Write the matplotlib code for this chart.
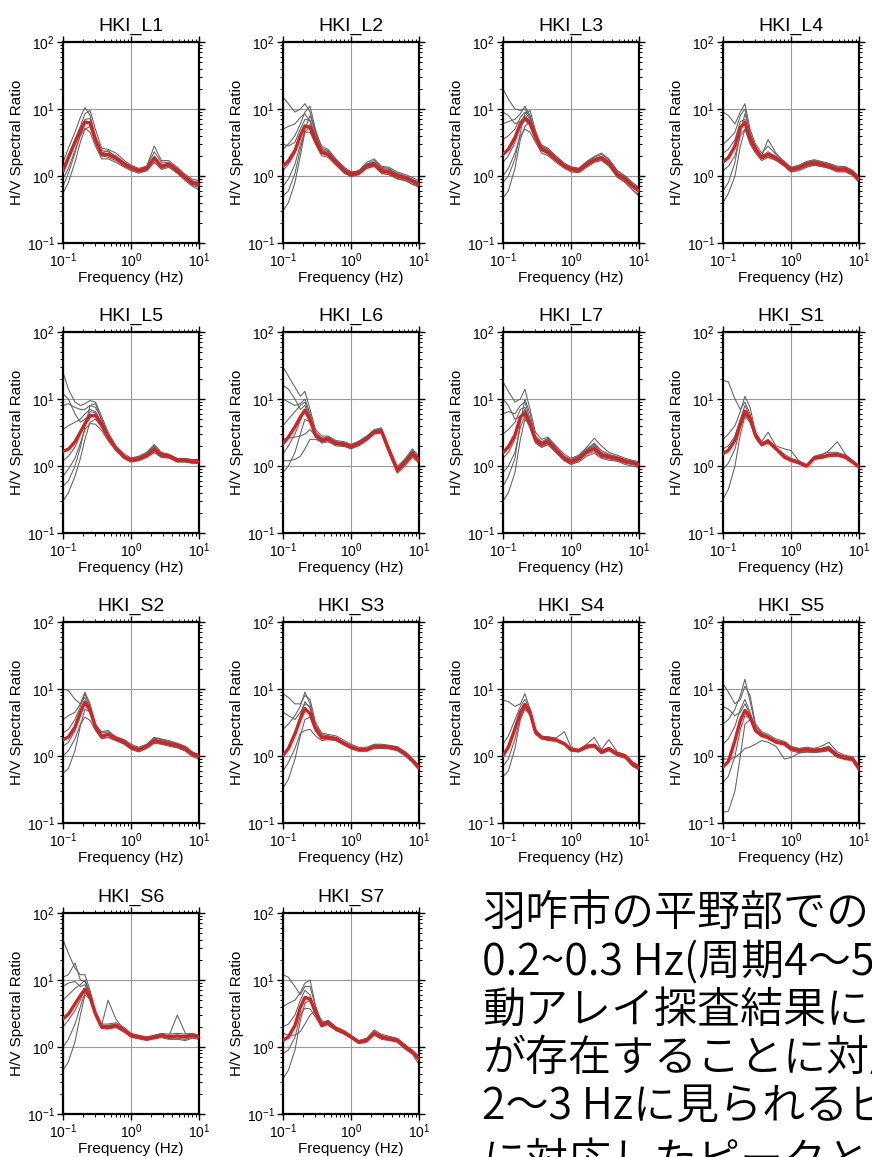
import matplotlib
matplotlib.use("Agg")
import matplotlib.pyplot as plt
from matplotlib.ticker import LogLocator, NullFormatter

plt.rcParams['font.family'] = ['Liberation Sans', 'DejaVu Sans']
plt.rcParams['mathtext.fontset'] = 'custom'
plt.rcParams['mathtext.rm'] = 'Liberation Sans'
plt.rcParams['mathtext.it'] = 'Liberation Sans:italic'
plt.rcParams['mathtext.bf'] = 'Liberation Sans:bold'

# frequency samples (Hz) shared by all curves
FREQ = [0.1, 0.12, 0.15, 0.18, 0.21, 0.25, 0.3, 0.37, 0.46, 0.6, 0.8,
        1.0, 1.3, 1.7, 2.2, 2.8, 3.6, 4.8, 6.3, 8.0, 10.0]

STATIONS = ['HKI_L1', 'HKI_L2', 'HKI_L3', 'HKI_L4', 'HKI_L5', 'HKI_L6', 'HKI_L7',
            'HKI_S1', 'HKI_S2', 'HKI_S3', 'HKI_S4', 'HKI_S5', 'HKI_S6', 'HKI_S7']

# averaged H/V (red)
L1_mean = [1.2, 1.9, 3.2, 4.8, 6.4, 6.2, 3.4, 2.1, 2.1, 1.85, 1.5, 1.33, 1.2, 1.3, 1.85, 1.4, 1.5, 1.2, 0.95, 0.8, 0.75]
L2_mean = [1.41, 1.68, 2.4, 4.0, 5.6, 5.3, 3.35, 2.24, 2.1, 1.58, 1.19, 1.06, 1.12, 1.41, 1.5, 1.19, 1.15, 1.0, 0.94, 0.84, 0.75]
L3_mean = [2.1, 2.5, 3.76, 6.0, 7.2, 6.0, 3.76, 2.5, 2.24, 1.78, 1.41, 1.26, 1.22, 1.5, 1.74, 1.88, 1.58, 1.06, 0.89, 0.71, 0.6]
L4_mean = [1.62, 1.88, 2.8, 5.3, 6.3, 3.5, 2.5, 1.88, 2.1, 1.88, 1.5, 1.26, 1.33, 1.5, 1.58, 1.5, 1.41, 1.26, 1.26, 1.12, 0.89]
L5_mean = [1.66, 1.78, 2.3, 3.2, 4.3, 5.6, 5.7, 4.1, 2.7, 1.82, 1.36, 1.22, 1.29, 1.45, 1.78, 1.45, 1.41, 1.22, 1.22, 1.17, 1.17]
L6_mean = [2.16, 2.7, 3.85, 5.4, 6.8, 4.8, 2.9, 2.4, 2.5, 2.16, 2.1, 1.93, 2.16, 2.57, 3.2, 3.3, 1.72, 0.86, 1.15, 1.53, 1.22]
L7_mean = [1.58, 1.93, 2.9, 5.4, 6.1, 4.1, 2.43, 2.09, 2.3, 1.72, 1.29, 1.15, 1.29, 1.62, 1.82, 1.45, 1.36, 1.29, 1.17, 1.12, 1.05]
S1_mean = [1.53, 1.72, 2.43, 4.3, 6.6, 5.1, 2.9, 2.1, 2.34, 1.82, 1.36, 1.22, 1.12, 1.0, 1.32, 1.36, 1.45, 1.48, 1.36, 1.15, 0.97]
S2_mean = [1.75, 1.92, 2.7, 4.5, 6.4, 4.8, 2.7, 1.97, 2.1, 1.81, 1.62, 1.36, 1.24, 1.39, 1.71, 1.62, 1.53, 1.44, 1.29, 1.08, 0.99]
S3_mean = [1.02, 1.29, 2.15, 3.6, 5.1, 4.3, 2.56, 1.88, 1.88, 1.81, 1.53, 1.36, 1.24, 1.24, 1.39, 1.39, 1.36, 1.29, 1.08, 0.86, 0.67]
S4_mean = [1.02, 1.36, 2.56, 4.5, 5.9, 4.5, 2.28, 1.88, 1.81, 1.75, 1.53, 1.24, 1.21, 1.39, 1.44, 1.15, 1.29, 1.08, 0.99, 0.77, 0.67]
S5_mean = [0.69, 0.83, 1.71, 3.4, 4.8, 3.8, 2.4, 2.03, 1.88, 1.62, 1.53, 1.29, 1.21, 1.24, 1.21, 1.24, 1.29, 1.02, 0.94, 0.91, 0.65]
S6_mean = [2.63, 3.1, 4.4, 5.85, 7.3, 5.5, 3.1, 1.98, 1.98, 2.1, 1.77, 1.49, 1.41, 1.33, 1.41, 1.49, 1.41, 1.46, 1.41, 1.49, 1.41]
S7_mean = [1.26, 1.41, 2.1, 3.9, 5.5, 5.2, 3.3, 2.1, 2.35, 1.87, 1.63, 1.41, 1.19, 1.26, 1.63, 1.41, 1.33, 1.26, 1.0, 0.84, 0.67]

# individual windows (gray)
L1_gray = [
    [1.6, 2.6, 4.5, 7.5, 10.5, 8.0, 4.0, 2.4, 2.3, 2.0, 1.6, 1.4, 1.25, 1.4, 2.3, 1.6, 1.6, 1.3, 1.0, 0.85, 0.8],
    [0.55, 0.8, 1.6, 3.2, 5.0, 5.5, 3.4, 2.0, 1.9, 1.7, 1.4, 1.25, 1.15, 1.2, 1.6, 1.3, 1.4, 1.1, 0.85, 0.7, 0.62],
    [1.3, 2.0, 3.5, 5.5, 8.5, 9.5, 5.0, 2.6, 2.5, 2.2, 1.7, 1.45, 1.3, 1.4, 2.8, 1.7, 1.7, 1.35, 1.05, 0.9, 0.85],
    [0.9, 1.3, 2.4, 4.0, 5.2, 4.5, 2.8, 1.8, 1.8, 1.6, 1.35, 1.2, 1.1, 1.2, 1.6, 1.25, 1.35, 1.1, 0.9, 0.72, 0.68],
    [1.1, 1.7, 3.0, 5.0, 7.0, 7.2, 3.8, 2.2, 2.4, 1.9, 1.55, 1.35, 1.2, 1.3, 2.0, 1.45, 1.55, 1.25, 0.95, 0.78, 0.72],
    [0.7, 1.1, 2.2, 4.2, 6.0, 6.5, 3.6, 2.0, 2.0, 1.8, 1.45, 1.3, 1.2, 1.35, 1.9, 1.35, 1.45, 1.2, 0.9, 0.75, 0.7],
]
L2_gray = [
    [15.0, 12.0, 9.0, 10.0, 12.0, 9.0, 4.5, 2.8, 2.5, 1.8, 1.35, 1.15, 1.2, 1.6, 1.8, 1.4, 1.35, 1.15, 1.05, 0.95, 0.85],
    [0.3, 0.4, 0.8, 2.0, 4.5, 5.5, 3.6, 2.2, 2.0, 1.5, 1.1, 1.0, 1.05, 1.3, 1.4, 1.1, 1.05, 0.9, 0.85, 0.75, 0.68],
    [5.0, 5.5, 6.0, 7.5, 8.5, 6.5, 3.8, 2.5, 2.3, 1.7, 1.3, 1.1, 1.2, 1.5, 1.6, 1.3, 1.25, 1.1, 1.0, 0.9, 0.8],
    [0.7, 0.9, 1.5, 3.0, 4.5, 4.5, 3.0, 2.0, 1.9, 1.45, 1.1, 0.98, 1.05, 1.3, 1.4, 1.1, 1.05, 0.92, 0.86, 0.76, 0.7],
    [2.5, 3.0, 4.0, 6.0, 9.0, 11.0, 5.0, 2.6, 2.4, 1.75, 1.25, 1.12, 1.15, 1.5, 1.7, 1.35, 1.3, 1.05, 0.98, 0.88, 0.8],
    [1.2, 1.5, 2.2, 3.8, 5.5, 5.8, 3.5, 2.4, 2.2, 1.6, 1.2, 1.05, 1.1, 1.45, 1.55, 1.2, 1.15, 1.02, 0.95, 0.85, 0.76],
    [3.0, 2.8, 3.2, 5.0, 7.0, 6.8, 4.0, 2.3, 2.0, 1.55, 1.15, 1.02, 1.08, 1.35, 1.45, 1.15, 1.1, 0.95, 0.9, 0.8, 0.72],
    [0.5, 0.6, 1.1, 2.5, 5.0, 8.0, 4.5, 2.2, 2.1, 1.65, 1.22, 1.08, 1.15, 1.4, 1.6, 1.25, 1.2, 1.05, 0.97, 0.86, 0.78],
]
L3_gray = [
    [20.0, 14.0, 10.0, 9.5, 10.0, 7.5, 4.5, 2.8, 2.5, 1.95, 1.5, 1.35, 1.3, 1.6, 1.9, 2.1, 1.75, 1.2, 1.0, 0.8, 0.68],
    [0.47, 0.6, 1.3, 3.5, 5.5, 6.5, 4.0, 2.4, 2.1, 1.7, 1.35, 1.2, 1.15, 1.4, 1.65, 1.75, 1.45, 0.98, 0.8, 0.62, 0.5],
    [6.0, 6.5, 7.0, 8.5, 11.0, 8.0, 4.2, 2.9, 2.6, 2.0, 1.55, 1.38, 1.3, 1.65, 1.95, 2.2, 1.8, 1.2, 0.98, 0.78, 0.66],
    [1.0, 1.3, 2.2, 4.0, 5.0, 4.5, 3.2, 2.2, 2.0, 1.6, 1.3, 1.15, 1.12, 1.35, 1.6, 1.7, 1.4, 0.95, 0.8, 0.63, 0.52],
    [3.5, 4.0, 5.0, 7.5, 9.0, 7.0, 4.0, 2.6, 2.4, 1.85, 1.45, 1.3, 1.25, 1.55, 1.8, 1.95, 1.65, 1.12, 0.94, 0.75, 0.64],
    [1.6, 2.0, 3.2, 5.5, 7.5, 6.8, 3.9, 2.5, 2.2, 1.75, 1.4, 1.22, 1.2, 1.45, 1.7, 1.85, 1.5, 1.02, 0.85, 0.68, 0.57],
    [9.0, 8.0, 6.0, 6.5, 8.0, 6.5, 4.0, 2.7, 2.4, 1.8, 1.42, 1.28, 1.24, 1.52, 1.78, 1.95, 1.6, 1.08, 0.9, 0.72, 0.62],
    [0.8, 1.0, 1.8, 4.5, 8.5, 9.5, 4.8, 2.6, 2.3, 1.82, 1.45, 1.3, 1.25, 1.5, 1.75, 1.9, 1.62, 1.1, 0.92, 0.74, 0.62],
]
L4_gray = [
    [9.0, 8.0, 6.0, 9.0, 12.0, 5.0, 3.0, 2.2, 2.8, 2.1, 1.65, 1.35, 1.45, 1.65, 1.75, 1.65, 1.55, 1.4, 1.38, 1.22, 0.98],
    [0.4, 0.55, 1.0, 2.8, 5.0, 3.6, 2.4, 1.8, 1.9, 1.75, 1.4, 1.15, 1.2, 1.35, 1.45, 1.38, 1.3, 1.15, 1.15, 1.02, 0.8],
    [3.0, 3.5, 4.5, 8.0, 10.0, 4.2, 2.8, 2.0, 3.5, 2.2, 1.6, 1.3, 1.4, 1.6, 1.7, 1.6, 1.5, 1.35, 1.35, 1.2, 0.95],
    [1.2, 1.4, 2.0, 4.0, 5.0, 3.0, 2.2, 1.7, 1.9, 1.7, 1.4, 1.15, 1.25, 1.4, 1.45, 1.4, 1.32, 1.18, 1.18, 1.05, 0.82],
    [2.2, 2.5, 3.5, 6.5, 7.0, 3.8, 2.7, 2.0, 2.3, 1.95, 1.55, 1.3, 1.38, 1.55, 1.65, 1.55, 1.45, 1.3, 1.3, 1.15, 0.92],
    [0.6, 0.8, 1.6, 4.5, 8.5, 4.5, 2.6, 1.9, 2.0, 1.8, 1.45, 1.2, 1.3, 1.45, 1.5, 1.45, 1.36, 1.22, 1.22, 1.08, 0.86],
]
L5_gray = [
    [25.0, 14.0, 9.0, 8.0, 8.5, 9.5, 9.0, 5.5, 3.2, 2.0, 1.5, 1.32, 1.4, 1.6, 2.1, 1.6, 1.5, 1.3, 1.3, 1.25, 1.25],
    [0.3, 0.4, 0.7, 1.3, 2.5, 4.5, 5.0, 3.8, 2.5, 1.7, 1.28, 1.15, 1.2, 1.35, 1.6, 1.35, 1.32, 1.15, 1.15, 1.1, 1.1],
    [8.0, 8.5, 7.5, 7.0, 7.0, 8.0, 7.5, 5.0, 3.0, 1.95, 1.42, 1.28, 1.35, 1.55, 2.0, 1.55, 1.48, 1.28, 1.28, 1.22, 1.22],
    [0.7, 0.9, 1.3, 2.2, 3.5, 4.3, 4.2, 3.4, 2.4, 1.7, 1.3, 1.15, 1.22, 1.35, 1.6, 1.35, 1.32, 1.15, 1.15, 1.1, 1.1],
    [3.5, 4.0, 4.5, 5.0, 6.0, 7.0, 6.5, 4.5, 2.9, 1.9, 1.4, 1.25, 1.32, 1.5, 1.9, 1.5, 1.45, 1.25, 1.25, 1.2, 1.2],
    [1.2, 1.4, 1.9, 3.0, 4.5, 6.5, 6.2, 4.3, 2.8, 1.85, 1.38, 1.22, 1.28, 1.45, 1.75, 1.42, 1.4, 1.2, 1.2, 1.15, 1.15],
    [12.0, 10.0, 6.0, 4.5, 5.0, 6.0, 5.5, 4.0, 2.6, 1.78, 1.33, 1.2, 1.26, 1.42, 1.7, 1.42, 1.38, 1.2, 1.2, 1.15, 1.14],
    [0.5, 0.6, 1.0, 1.9, 3.8, 8.0, 8.5, 4.8, 2.7, 1.8, 1.35, 1.22, 1.3, 1.48, 1.85, 1.48, 1.42, 1.24, 1.24, 1.18, 1.18],
]
L6_gray = [
    [30.0, 22.0, 15.0, 11.0, 13.0, 7.0, 3.5, 2.8, 2.8, 2.4, 2.3, 2.1, 2.35, 2.8, 3.5, 3.7, 1.95, 0.98, 1.3, 1.8, 1.4],
    [0.8, 1.0, 1.6, 3.0, 5.0, 4.5, 2.7, 2.2, 2.3, 2.0, 1.95, 1.8, 2.0, 2.4, 3.0, 3.1, 1.6, 0.78, 1.02, 1.35, 1.1],
    [10.0, 9.0, 8.0, 8.5, 10.0, 6.0, 3.2, 2.6, 2.7, 2.3, 2.2, 2.05, 2.3, 2.7, 3.4, 3.6, 1.85, 0.92, 1.25, 1.7, 1.32],
    [1.2, 1.2, 1.25, 1.4, 1.8, 2.5, 2.5, 2.3, 2.4, 2.1, 2.0, 1.85, 2.05, 2.45, 3.1, 3.2, 1.65, 0.82, 1.08, 1.42, 1.15],
    [4.0, 5.0, 6.5, 8.0, 9.0, 5.5, 3.0, 2.5, 2.6, 2.2, 2.15, 1.98, 2.2, 2.6, 3.3, 3.4, 1.78, 0.88, 1.18, 1.6, 1.26],
    [2.5, 2.6, 2.7, 2.8, 3.0, 3.5, 2.8, 2.4, 2.5, 2.15, 2.05, 1.9, 2.1, 2.5, 3.15, 3.25, 1.7, 0.85, 1.12, 1.48, 1.2],
    [1.5, 2.0, 3.0, 4.8, 7.0, 5.2, 3.0, 2.5, 2.6, 2.25, 2.15, 2.0, 2.25, 2.65, 3.3, 3.45, 1.8, 0.9, 1.2, 1.62, 1.28],
    [16.0, 14.0, 10.0, 7.0, 8.0, 5.0, 3.1, 2.6, 2.7, 2.3, 2.2, 2.05, 2.25, 2.7, 3.35, 3.5, 1.82, 0.9, 1.22, 1.65, 1.3],
]
L7_gray = [
    [18.0, 13.0, 9.0, 10.0, 14.0, 7.0, 3.2, 2.5, 2.7, 2.0, 1.5, 1.3, 1.45, 1.9, 2.6, 2.0, 1.6, 1.45, 1.3, 1.22, 1.15],
    [0.3, 0.4, 0.8, 2.5, 5.0, 4.0, 2.3, 1.9, 2.1, 1.6, 1.2, 1.05, 1.15, 1.4, 1.55, 1.3, 1.22, 1.18, 1.05, 1.0, 0.95],
    [6.0, 6.5, 6.0, 8.0, 9.0, 5.0, 2.8, 2.3, 2.6, 1.9, 1.4, 1.25, 1.4, 1.8, 2.2, 1.7, 1.5, 1.38, 1.25, 1.18, 1.1],
    [0.8, 1.0, 1.6, 3.8, 5.5, 3.8, 2.2, 1.9, 2.1, 1.6, 1.2, 1.08, 1.2, 1.5, 1.65, 1.35, 1.28, 1.2, 1.1, 1.05, 0.98],
    [3.0, 3.5, 4.5, 7.0, 7.5, 4.6, 2.6, 2.2, 2.5, 1.8, 1.35, 1.2, 1.35, 1.7, 2.0, 1.55, 1.42, 1.33, 1.2, 1.15, 1.08],
    [1.3, 1.6, 2.5, 5.0, 6.5, 4.3, 2.5, 2.1, 2.3, 1.75, 1.3, 1.15, 1.3, 1.6, 1.8, 1.45, 1.35, 1.28, 1.16, 1.1, 1.04],
    [10.0, 8.0, 5.0, 5.5, 7.0, 4.5, 2.6, 2.2, 2.4, 1.78, 1.32, 1.18, 1.32, 1.68, 1.9, 1.5, 1.4, 1.32, 1.2, 1.14, 1.06],
    [0.5, 0.7, 1.3, 4.5, 10.0, 6.0, 2.7, 2.2, 2.5, 1.82, 1.36, 1.2, 1.36, 1.75, 2.1, 1.6, 1.45, 1.35, 1.22, 1.16, 1.08],
]
S1_gray = [
    [19.0, 18.0, 10.0, 7.0, 9.0, 6.0, 3.0, 2.2, 2.5, 1.9, 1.5, 1.3, 1.2, 1.05, 1.4, 1.5, 1.6, 1.6, 1.45, 1.22, 1.02],
    [0.32, 0.45, 1.0, 3.0, 5.5, 4.5, 2.6, 2.0, 2.2, 1.75, 1.3, 1.18, 1.08, 0.96, 1.25, 1.3, 1.38, 1.4, 1.3, 1.1, 0.94],
    [2.5, 3.0, 4.0, 6.5, 11.0, 7.5, 3.2, 2.3, 3.2, 2.0, 1.8, 1.7, 1.2, 1.02, 1.35, 1.45, 1.7, 2.3, 1.5, 1.2, 1.0],
    [0.9, 1.1, 1.8, 3.8, 5.8, 4.8, 2.8, 2.0, 2.2, 1.75, 1.32, 1.2, 1.1, 0.98, 1.3, 1.32, 1.42, 1.45, 1.32, 1.12, 0.95],
    [1.8, 2.0, 2.8, 5.0, 8.0, 5.5, 3.0, 2.2, 2.4, 1.85, 1.4, 1.25, 1.14, 1.02, 1.34, 1.4, 1.5, 1.5, 1.4, 1.18, 0.98],
]
S2_gray = [
    [10.0, 9.5, 7.0, 6.0, 9.0, 6.0, 3.0, 2.2, 2.3, 1.95, 1.75, 1.5, 1.35, 1.5, 1.9, 1.8, 1.7, 1.55, 1.4, 1.15, 1.05],
    [0.55, 0.65, 1.2, 2.8, 5.0, 4.5, 2.6, 1.85, 1.9, 1.7, 1.5, 1.25, 1.15, 1.3, 1.55, 1.5, 1.4, 1.32, 1.18, 0.98, 0.9],
    [3.5, 4.0, 4.5, 6.0, 7.5, 5.2, 2.9, 2.3, 2.4, 1.9, 1.7, 1.42, 1.3, 1.45, 1.85, 1.75, 1.65, 1.5, 1.35, 1.12, 1.02],
    [1.0, 1.2, 1.8, 3.0, 3.8, 3.4, 2.4, 1.8, 1.9, 1.7, 1.5, 1.28, 1.18, 1.32, 1.6, 1.52, 1.45, 1.35, 1.22, 1.02, 0.94],
    [2.2, 2.5, 3.5, 5.5, 8.5, 5.5, 2.8, 2.0, 2.2, 1.85, 1.65, 1.38, 1.26, 1.42, 1.75, 1.68, 1.58, 1.48, 1.32, 1.1, 1.0],
    [1.4, 1.6, 2.4, 4.0, 6.0, 4.5, 2.6, 1.95, 2.1, 1.8, 1.6, 1.35, 1.22, 1.38, 1.7, 1.6, 1.5, 1.42, 1.28, 1.06, 0.97],
]
S3_gray = [
    [8.5, 7.5, 6.0, 6.0, 8.0, 7.0, 3.2, 2.2, 2.1, 2.0, 1.7, 1.5, 1.35, 1.35, 1.5, 1.5, 1.45, 1.38, 1.15, 0.92, 0.72],
    [0.33, 0.45, 0.9, 2.0, 3.5, 3.8, 2.4, 1.8, 1.8, 1.7, 1.45, 1.28, 1.18, 1.18, 1.3, 1.3, 1.28, 1.2, 1.0, 0.8, 0.62],
    [2.5, 3.0, 4.0, 5.5, 9.0, 6.0, 2.8, 2.0, 2.0, 1.9, 1.6, 1.42, 1.3, 1.3, 1.45, 1.45, 1.42, 1.35, 1.12, 0.9, 0.7],
    [0.6, 0.8, 1.3, 2.2, 2.4, 2.5, 2.0, 1.7, 1.75, 1.7, 1.45, 1.3, 1.2, 1.2, 1.32, 1.32, 1.3, 1.22, 1.02, 0.82, 0.64],
    [4.5, 4.0, 3.5, 4.5, 6.0, 5.5, 2.9, 2.1, 2.0, 1.85, 1.58, 1.4, 1.28, 1.28, 1.42, 1.42, 1.38, 1.32, 1.1, 0.88, 0.69],
    [1.0, 1.3, 2.2, 4.0, 6.5, 5.2, 2.6, 1.9, 1.9, 1.8, 1.52, 1.35, 1.23, 1.23, 1.38, 1.38, 1.35, 1.28, 1.07, 0.85, 0.66],
]
S4_gray = [
    [6.8, 6.5, 5.5, 6.0, 8.5, 5.0, 2.5, 2.0, 1.9, 1.8, 1.55, 1.3, 1.25, 1.5, 1.9, 1.25, 1.75, 1.15, 1.05, 0.82, 0.72],
    [0.49, 0.6, 1.3, 3.5, 5.0, 4.2, 2.2, 1.8, 1.75, 1.7, 1.5, 1.2, 1.15, 1.3, 1.35, 1.08, 1.2, 1.0, 0.92, 0.7, 0.62],
    [1.5, 2.0, 3.5, 5.5, 7.0, 5.0, 2.4, 1.95, 1.95, 1.85, 2.3, 1.35, 1.25, 1.45, 1.5, 1.2, 1.35, 1.12, 1.02, 0.8, 0.7],
    [0.7, 0.9, 1.8, 3.8, 5.2, 4.0, 2.1, 1.8, 1.7, 1.65, 1.45, 1.18, 1.15, 1.32, 1.4, 1.1, 1.22, 1.02, 0.95, 0.72, 0.63],
]
S5_gray = [
    [12.0, 9.0, 6.0, 7.0, 11.0, 8.0, 3.0, 2.3, 2.1, 1.8, 1.65, 1.4, 1.3, 1.35, 1.3, 1.4, 1.6, 1.15, 1.02, 0.98, 0.72],
    [0.145, 0.15, 0.3, 1.0, 3.0, 3.5, 2.3, 2.0, 1.8, 1.55, 1.45, 1.2, 1.12, 1.15, 1.12, 1.15, 1.2, 0.95, 0.88, 0.85, 0.6],
    [0.9, 0.9, 0.95, 1.1, 1.3, 1.36, 1.5, 1.7, 1.6, 1.4, 0.9, 0.95, 1.1, 1.15, 1.15, 1.18, 1.22, 0.98, 0.9, 0.87, 0.62],
    [3.0, 3.5, 5.0, 8.0, 14.0, 6.5, 2.8, 2.2, 2.0, 1.7, 1.6, 1.35, 1.26, 1.3, 1.26, 1.3, 1.4, 1.08, 0.98, 0.95, 0.7],
    [0.4, 0.5, 1.0, 2.5, 4.0, 3.6, 2.3, 1.95, 1.85, 1.6, 1.5, 1.25, 1.18, 1.2, 1.18, 1.22, 1.25, 1.0, 0.92, 0.88, 0.63],
    [1.5, 1.8, 2.8, 5.0, 7.0, 4.5, 2.6, 2.1, 1.95, 1.68, 1.55, 1.32, 1.24, 1.28, 1.24, 1.28, 1.35, 1.05, 0.96, 0.93, 0.68],
    [5.5, 5.0, 4.0, 4.5, 6.0, 4.2, 2.5, 2.1, 1.9, 1.65, 1.55, 1.3, 1.22, 1.25, 1.22, 1.26, 1.3, 1.04, 0.95, 0.92, 0.66],
]
S6_gray = [
    [40.0, 25.0, 15.0, 12.0, 12.0, 7.0, 3.5, 2.2, 2.2, 2.3, 1.95, 1.6, 1.5, 1.42, 1.5, 1.6, 1.55, 1.6, 1.55, 1.6, 1.5],
    [0.45, 0.6, 1.2, 3.0, 6.0, 5.2, 3.0, 1.9, 1.85, 1.95, 1.65, 1.4, 1.32, 1.25, 1.32, 1.38, 1.3, 1.3, 1.25, 1.35, 1.3],
    [11.0, 12.0, 18.0, 10.0, 9.5, 6.0, 3.3, 2.1, 2.1, 2.2, 1.85, 1.55, 1.45, 1.38, 1.45, 1.55, 1.48, 1.5, 1.48, 1.55, 1.45],
    [1.0, 1.3, 2.2, 4.0, 6.5, 5.5, 3.0, 2.0, 1.9, 2.0, 1.7, 1.42, 1.35, 1.28, 1.35, 1.42, 1.35, 1.35, 1.3, 1.4, 1.35],
    [5.0, 6.0, 7.5, 8.5, 10.0, 6.5, 3.2, 2.1, 5.0, 2.6, 1.8, 1.5, 1.42, 1.35, 1.42, 1.52, 1.45, 3.0, 1.6, 1.5, 1.42],
    [2.0, 2.5, 3.5, 5.0, 7.5, 5.8, 3.1, 2.0, 2.0, 2.1, 1.75, 1.48, 1.4, 1.32, 1.4, 1.48, 1.4, 1.45, 1.4, 1.48, 1.4],
    [8.0, 9.0, 9.5, 8.0, 8.5, 6.0, 3.1, 2.05, 2.0, 2.15, 1.8, 1.5, 1.42, 1.34, 1.42, 1.5, 1.42, 1.48, 1.42, 1.5, 1.42],
]
S7_gray = [
    [12.0, 11.0, 8.0, 6.0, 8.0, 8.0, 4.0, 2.3, 2.5, 2.0, 1.75, 1.5, 1.25, 1.35, 1.8, 1.55, 1.45, 1.35, 1.08, 0.9, 0.72],
    [0.34, 0.45, 0.9, 2.5, 4.5, 5.0, 3.2, 2.0, 2.2, 1.75, 1.55, 1.35, 1.12, 1.18, 1.5, 1.3, 1.25, 1.18, 0.92, 0.78, 0.55],
    [4.0, 4.5, 5.0, 6.5, 9.0, 10.0, 4.2, 2.2, 2.5, 1.95, 1.7, 1.45, 1.22, 1.3, 1.7, 1.48, 1.4, 1.32, 1.05, 0.88, 0.7],
    [0.8, 0.9, 1.4, 3.0, 3.8, 3.7, 2.8, 2.0, 2.2, 1.8, 1.58, 1.38, 1.15, 1.22, 1.55, 1.35, 1.28, 1.2, 0.95, 0.8, 0.62],
    [2.0, 2.2, 3.0, 5.0, 7.0, 6.0, 3.5, 2.15, 2.4, 1.9, 1.65, 1.42, 1.2, 1.28, 1.65, 1.42, 1.35, 1.28, 1.02, 0.85, 0.68],
    [1.6, 1.5, 1.5, 1.7, 2.2, 3.0, 3.5, 2.5, 2.1, 1.8, 1.6, 1.4, 1.2, 1.25, 1.6, 1.4, 1.32, 1.25, 1.0, 0.83, 0.66],
]

MEANS = [L1_mean, L2_mean, L3_mean, L4_mean, L5_mean, L6_mean, L7_mean,
         S1_mean, S2_mean, S3_mean, S4_mean, S5_mean, S6_mean, S7_mean]
GRAYS = [L1_gray, L2_gray, L3_gray, L4_gray, L5_gray, L6_gray, L7_gray,
         S1_gray, S2_gray, S3_gray, S4_gray, S5_gray, S6_gray, S7_gray]

# the note is cropped at the right and bottom edges in the original
NOTE_LINES = ['羽咋市の平野部での',
              '0.2~0.3 Hz(周期4〜5',
              '動アレイ探査結果によ',
              'が存在することに対応',
              '2〜3 Hzに見られるピ',
              'に対応したピークとあ']

W, H = 872, 1157
col_left = [63, 283, 503, 723]
row_top = [42, 332, 622, 913]
ax_w, ax_h = 136, 201

fig = plt.figure(figsize=(W / 100, H / 100), dpi=100)

for i, name in enumerate(STATIONS):
    r, c = divmod(i, 4)
    ax = fig.add_axes([col_left[c] / W, 1 - (row_top[r] + ax_h) / H, ax_w / W, ax_h / H])
    ax.set_xscale('log')
    ax.set_yscale('log')
    for g in GRAYS[i]:
        ax.plot(FREQ, g, color='#606060', lw=0.75, zorder=2)
    ax.plot(FREQ, MEANS[i], color='#dd1f1f', lw=2.4, zorder=3)
    ax.set_xlim(0.1, 10)
    ax.set_ylim(0.1, 100)
    ax.xaxis.set_major_locator(LogLocator(base=10, numticks=5))
    ax.yaxis.set_major_locator(LogLocator(base=10, numticks=5))
    ax.xaxis.set_minor_locator(LogLocator(base=10, subs=range(2, 10), numticks=12))
    ax.yaxis.set_minor_locator(LogLocator(base=10, subs=range(2, 10), numticks=12))
    ax.xaxis.set_minor_formatter(NullFormatter())
    ax.yaxis.set_minor_formatter(NullFormatter())
    ax.grid(which='major', color='#999999', lw=0.8, zorder=1)
    ax.set_axisbelow(True)
    ax.tick_params(which='both', direction='out', top=True, right=True,
                   labelsize=10, pad=2)
    ax.tick_params(which='major', length=4, width=1)
    ax.tick_params(which='minor', length=2, width=0.7)
    for s in ax.spines.values():
        s.set_linewidth(1.6)
    ax.set_title(name, fontsize=14, pad=8)
    ax.set_xlabel('Frequency (Hz)', fontsize=11, labelpad=1)
    ax.set_ylabel('H/V Spectral Ratio', fontsize=11, labelpad=2)

y_lines = [914, 962, 1010, 1059, 1107, 1162]
for txt, yp in zip(NOTE_LINES, y_lines):
    fig.text(482 / W, 1 - yp / H, txt, fontsize=31, va='center', ha='left',
             fontweight=350, family=['Noto Sans CJK JP', 'DejaVu Sans'])

fig.savefig('out.png', dpi=100)
